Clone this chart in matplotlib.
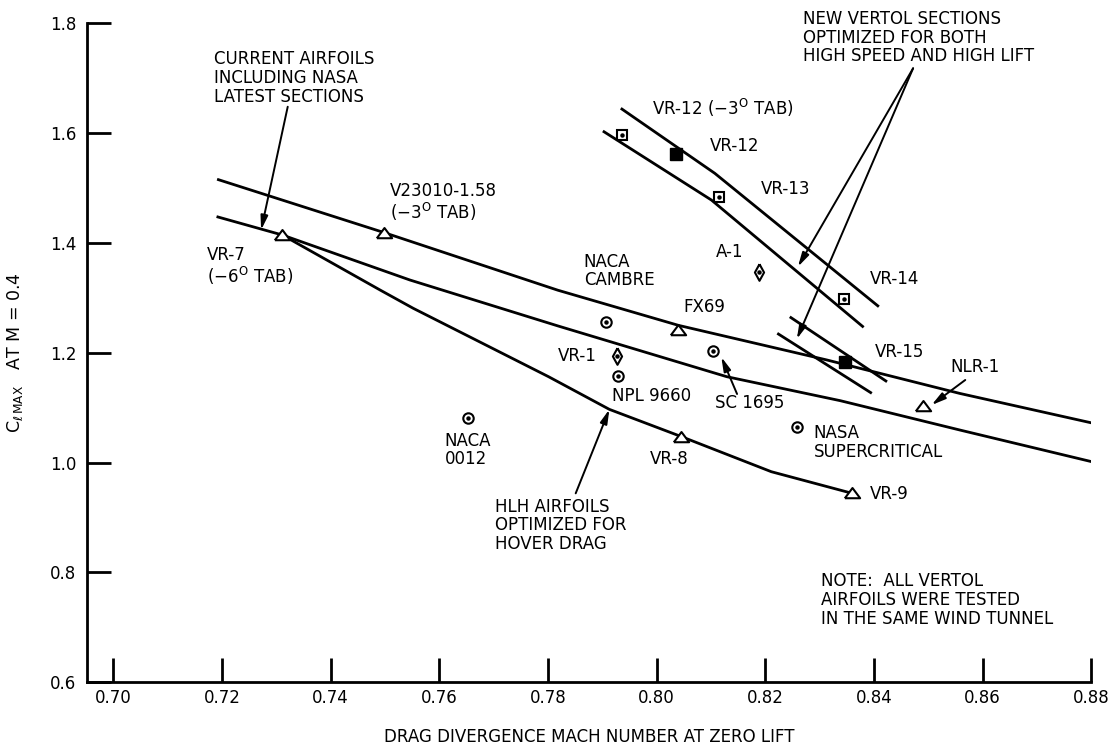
import numpy as np
import matplotlib

matplotlib.use("Agg")
import matplotlib.pyplot as plt

plt.rcParams.update({
    "font.family": "DejaVu Sans", "font.size": 12,
    "mathtext.fontset": "dejavusans",
    "axes.linewidth": 2.0,
})

# --- boundary lines (drag divergence Mach, Clmax) ---
upper_m = [0.7191, 0.7498, 0.7818, 0.8040, 0.8313, 0.8558, 0.8804]
upper_cl = [1.516, 1.419, 1.314, 1.250, 1.187, 1.126, 1.0716]
middle_m = [0.7190, 0.7311, 0.7546, 0.7818, 0.8129, 0.8338, 0.8558, 0.8813]
middle_cl = [1.448, 1.4145, 1.3325, 1.249, 1.1565, 1.1128, 1.0594, 0.9988]
hlh_m = [0.7311, 0.7491, 0.7552, 0.7801, 0.7913, 0.8046, 0.8211, 0.8360]
hlh_cl = [1.4145, 1.3143, 1.281, 1.1565, 1.097, 1.0472, 0.9835, 0.9441]
vr12tab_m = [0.7934, 0.8107, 0.8409]
vr12tab_cl = [1.6452, 1.5268, 1.2839]
vr13_m = [0.7901, 0.8101, 0.8381]
vr13_cl = [1.6038, 1.478, 1.2464]
vr15a_m = [0.8245, 0.8424]
vr15a_cl = [1.2655, 1.1473]
vr15b_m = [0.8222, 0.8396]
vr15b_cl = [1.2355, 1.1262]

# --- test points ---
tri_m = [0.7311, 0.7498, 0.8040, 0.8045, 0.8360, 0.8491]
tri_cl = [1.4145, 1.419, 1.2415, 1.047, 0.9441, 1.1031]
circ_m = [0.7652, 0.7906, 0.7928, 0.8104, 0.8258]
circ_cl = [1.0807, 1.256, 1.1583, 1.2038, 1.0648]
diam_m = [0.7927, 0.8188]
diam_cl = [1.194, 1.3468]
sq_m = [0.7936, 0.8114, 0.8344]
sq_cl = [1.5966, 1.483, 1.2974]
sqf_m = [0.8035, 0.8347]
sqf_cl = [1.562, 1.1838]

xticks = [0.70, 0.72, 0.74, 0.76, 0.78, 0.80, 0.82, 0.84, 0.86, 0.88]
yticks = [0.6, 0.8, 1.0, 1.2, 1.4, 1.6, 1.8]

TAB3 = "(\u22123$^{\\mathrm{O}}$ TAB)"
TAB6 = "(\u22126$^{\\mathrm{O}}$ TAB)"
labels = [
    ("CURRENT AIRFOILS\nINCLUDING NASA\nLATEST SECTIONS", 0.7185, 1.700),
    ("V23010-1.58\n" + TAB3, 0.7509, 1.474),
    ("VR-7\n" + TAB6, 0.7172, 1.357),
    ("NACA\nCAMBRE", 0.7866, 1.349),
    ("VR-12 " + TAB3, 0.7992, 1.645),
    ("VR-12", 0.8098, 1.577),
    ("VR-13", 0.8192, 1.498),
    ("A-1", 0.8109, 1.384),
    ("VR-14", 0.8393, 1.334),
    ("FX69", 0.8050, 1.283),
    ("VR-15", 0.8402, 1.202),
    ("NLR-1", 0.8540, 1.174),
    ("VR-1", 0.7819, 1.194),
    ("NPL 9660", 0.7918, 1.122),
    ("SC 1695", 0.8107, 1.109),
    ("NASA\nSUPERCRITICAL", 0.8289, 1.037),
    ("VR-8", 0.7988, 1.006),
    ("VR-9", 0.8393, 0.943),
    ("NACA\n0012", 0.7610, 1.023),
    ("HLH AIRFOILS\nOPTIMIZED FOR\nHOVER DRAG", 0.7703, 0.886),
    ("NOTE:  ALL VERTOL\nAIRFOILS WERE TESTED\nIN THE SAME WIND TUNNEL", 0.8303, 0.750),
    ("NEW VERTOL SECTIONS\nOPTIMIZED FOR BOTH\nHIGH SPEED AND HIGH LIFT", 0.8269, 1.774),
]

# leader arrows: (tail, tip)
arrows = [
    ((0.7321, 1.648), (0.7272, 1.4236)),
    ((0.8472, 1.718), (0.8260, 1.3567)),
    ((0.8472, 1.718), (0.8258, 1.2251)),
    ((0.8148, 1.125), (0.8119, 1.1924)),
    ((0.8568, 1.1505), (0.8506, 1.1049)),
    ((0.7851, 0.9441), (0.7913, 1.097)),
]

fig = plt.figure(figsize=(11.12, 7.48), dpi=100)
ax = fig.add_axes([0.0785, 0.0878, 0.9029, 0.8811])

for m, cl in [(upper_m, upper_cl), (middle_m, middle_cl), (hlh_m, hlh_cl),
              (vr12tab_m, vr12tab_cl), (vr13_m, vr13_cl),
              (vr15a_m, vr15a_cl), (vr15b_m, vr15b_cl)]:
    ax.plot(m, cl, color="black", lw=2.0, solid_capstyle="butt", zorder=2)

tri_marker = [(-1, -0.62), (1, -0.62), (0, 0.72), (-1, -0.62)]
diam_marker = [(0, 1), (0.55, 0), (0, -1), (-0.55, 0), (0, 1)]
kw = dict(ls="none", mfc="white", mec="black", mew=1.5, zorder=4)
ax.plot(tri_m, tri_cl, marker=tri_marker, ms=11, **kw)
ax.plot(circ_m, circ_cl, marker="o", ms=7.5, **kw)
ax.plot(diam_m, diam_cl, marker=diam_marker, ms=12, **kw)
ax.plot(sq_m, sq_cl, marker="s", ms=7.5, **kw)
ax.plot(sqf_m, sqf_cl, ls="none", marker="s", ms=8, color="black", zorder=4)
ax.plot(circ_m + diam_m + sq_m, circ_cl + diam_cl + sq_cl, ls="none",
        marker="o", ms=2.2, color="black", zorder=5)

for txt, x, y in labels:
    ax.text(x, y, txt, ha="left", va="center", linespacing=1.05,
            fontsize=12, clip_on=False, zorder=6)

for tail, tip in arrows:
    ax.annotate("", xy=tip, xytext=tail,
                arrowprops=dict(arrowstyle="-|>,head_length=0.7,head_width=0.18",
                                color="black", lw=1.4, shrinkA=0, shrinkB=0))

ax.set_xlim(0.69521, 0.88)
ax.set_ylim(0.6, 1.8)
ax.set_xticks(xticks)
ax.set_xticklabels([f"{v:.2f}" for v in xticks])
ax.set_yticks(yticks)
ax.set_yticklabels([f"{v:.1f}" for v in yticks])
ax.spines["top"].set_visible(False)
ax.spines["right"].set_visible(False)
ax.tick_params(direction="in", length=17, width=2, labelsize=12)
ax.tick_params(axis="x", pad=5)
ax.tick_params(axis="y", pad=8)

ax.set_xlabel("DRAG DIVERGENCE MACH NUMBER AT ZERO LIFT", fontsize=12, labelpad=15)
ax.set_ylabel("$\\mathrm{C}_{\\ell\\,\\mathrm{MAX}}$   AT M = 0.4", fontsize=12.5)
ax.yaxis.set_label_coords(-0.062, 0.50)

fig.savefig("out.png", dpi=100)
